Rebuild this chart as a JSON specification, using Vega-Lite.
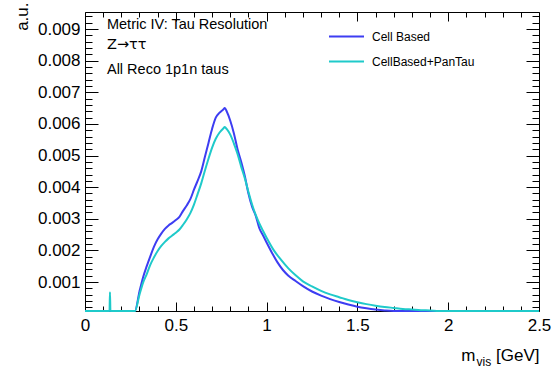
{
  "$schema": "https://vega.github.io/schema/vega-lite/v6.json",
  "width": 454,
  "height": 299,
  "autosize": {"type": "none"},
  "padding": {"left": 85, "top": 12, "right": 20, "bottom": 60},
  "background": "white",
  "config": {
    "view": {"stroke": "black", "strokeWidth": 1},
    "font": "Liberation Sans",
    "axis": {"domain": false, "grid": false, "tickColor": "black", "tickWidth": 1, "labelColor": "black", "titleColor": "black", "labelFont": "Liberation Sans", "titleFont": "Liberation Sans", "titleFontWeight": "normal"}
  },
  "data": {"values": [
    {"s": "Cell Based", "x": 0, "v": 0},
    {"s": "Cell Based", "x": 0.27, "v": 0},
    {"s": "Cell Based", "x": 0.275, "v": 0.00008},
    {"s": "Cell Based", "x": 0.3, "v": 0.0007},
    {"s": "Cell Based", "x": 0.32, "v": 0.00115},
    {"s": "Cell Based", "x": 0.34, "v": 0.0015},
    {"s": "Cell Based", "x": 0.36, "v": 0.00182},
    {"s": "Cell Based", "x": 0.38, "v": 0.00212},
    {"s": "Cell Based", "x": 0.4, "v": 0.00235},
    {"s": "Cell Based", "x": 0.42, "v": 0.00253},
    {"s": "Cell Based", "x": 0.44, "v": 0.00268},
    {"s": "Cell Based", "x": 0.46, "v": 0.00279},
    {"s": "Cell Based", "x": 0.48, "v": 0.00287},
    {"s": "Cell Based", "x": 0.5, "v": 0.00296},
    {"s": "Cell Based", "x": 0.52, "v": 0.00306},
    {"s": "Cell Based", "x": 0.54, "v": 0.00325},
    {"s": "Cell Based", "x": 0.56, "v": 0.00342},
    {"s": "Cell Based", "x": 0.58, "v": 0.00362},
    {"s": "Cell Based", "x": 0.6, "v": 0.00392},
    {"s": "Cell Based", "x": 0.62, "v": 0.0042},
    {"s": "Cell Based", "x": 0.64, "v": 0.0045},
    {"s": "Cell Based", "x": 0.66, "v": 0.00495},
    {"s": "Cell Based", "x": 0.68, "v": 0.0054},
    {"s": "Cell Based", "x": 0.7, "v": 0.00585},
    {"s": "Cell Based", "x": 0.72, "v": 0.0062},
    {"s": "Cell Based", "x": 0.74, "v": 0.00635},
    {"s": "Cell Based", "x": 0.76, "v": 0.00645},
    {"s": "Cell Based", "x": 0.77, "v": 0.0065},
    {"s": "Cell Based", "x": 0.78, "v": 0.0064},
    {"s": "Cell Based", "x": 0.8, "v": 0.0061},
    {"s": "Cell Based", "x": 0.82, "v": 0.0057},
    {"s": "Cell Based", "x": 0.84, "v": 0.0052},
    {"s": "Cell Based", "x": 0.86, "v": 0.0048},
    {"s": "Cell Based", "x": 0.88, "v": 0.00435},
    {"s": "Cell Based", "x": 0.9, "v": 0.0038},
    {"s": "Cell Based", "x": 0.92, "v": 0.00338},
    {"s": "Cell Based", "x": 0.94, "v": 0.0031},
    {"s": "Cell Based", "x": 0.96, "v": 0.0027},
    {"s": "Cell Based", "x": 0.98, "v": 0.00248},
    {"s": "Cell Based", "x": 1.0, "v": 0.00225},
    {"s": "Cell Based", "x": 1.03, "v": 0.00192},
    {"s": "Cell Based", "x": 1.06, "v": 0.00162},
    {"s": "Cell Based", "x": 1.09, "v": 0.00138},
    {"s": "Cell Based", "x": 1.12, "v": 0.0012},
    {"s": "Cell Based", "x": 1.16, "v": 0.00103},
    {"s": "Cell Based", "x": 1.2, "v": 0.00087},
    {"s": "Cell Based", "x": 1.25, "v": 0.0007},
    {"s": "Cell Based", "x": 1.3, "v": 0.00057},
    {"s": "Cell Based", "x": 1.35, "v": 0.00046},
    {"s": "Cell Based", "x": 1.4, "v": 0.00037},
    {"s": "Cell Based", "x": 1.45, "v": 0.00029},
    {"s": "Cell Based", "x": 1.5, "v": 0.00022},
    {"s": "Cell Based", "x": 1.55, "v": 0.00017},
    {"s": "Cell Based", "x": 1.6, "v": 0.00013},
    {"s": "Cell Based", "x": 1.65, "v": 0.0001},
    {"s": "Cell Based", "x": 1.7, "v": 0.00008},
    {"s": "Cell Based", "x": 1.75, "v": 0.00006},
    {"s": "Cell Based", "x": 1.8, "v": 0},
    {"s": "Cell Based", "x": 2.5, "v": 0},
    {"s": "CellBased+PanTau", "x": 0, "v": 0},
    {"s": "CellBased+PanTau", "x": 0.135, "v": 0},
    {"s": "CellBased+PanTau", "x": 0.1375, "v": 0.00068},
    {"s": "CellBased+PanTau", "x": 0.14, "v": 0},
    {"s": "CellBased+PanTau", "x": 0.27, "v": 0},
    {"s": "CellBased+PanTau", "x": 0.275, "v": 0.00008},
    {"s": "CellBased+PanTau", "x": 0.3, "v": 0.0006},
    {"s": "CellBased+PanTau", "x": 0.32, "v": 0.00098},
    {"s": "CellBased+PanTau", "x": 0.34, "v": 0.00125},
    {"s": "CellBased+PanTau", "x": 0.36, "v": 0.00155},
    {"s": "CellBased+PanTau", "x": 0.38, "v": 0.00178},
    {"s": "CellBased+PanTau", "x": 0.4, "v": 0.00198},
    {"s": "CellBased+PanTau", "x": 0.42, "v": 0.00214},
    {"s": "CellBased+PanTau", "x": 0.44, "v": 0.00227},
    {"s": "CellBased+PanTau", "x": 0.46, "v": 0.00238},
    {"s": "CellBased+PanTau", "x": 0.48, "v": 0.00247},
    {"s": "CellBased+PanTau", "x": 0.5, "v": 0.00256},
    {"s": "CellBased+PanTau", "x": 0.52, "v": 0.00266},
    {"s": "CellBased+PanTau", "x": 0.54, "v": 0.00281},
    {"s": "CellBased+PanTau", "x": 0.56, "v": 0.00298},
    {"s": "CellBased+PanTau", "x": 0.58, "v": 0.00318},
    {"s": "CellBased+PanTau", "x": 0.6, "v": 0.00345},
    {"s": "CellBased+PanTau", "x": 0.62, "v": 0.00378},
    {"s": "CellBased+PanTau", "x": 0.64, "v": 0.00412},
    {"s": "CellBased+PanTau", "x": 0.66, "v": 0.00452},
    {"s": "CellBased+PanTau", "x": 0.68, "v": 0.0049},
    {"s": "CellBased+PanTau", "x": 0.7, "v": 0.00525},
    {"s": "CellBased+PanTau", "x": 0.72, "v": 0.00553},
    {"s": "CellBased+PanTau", "x": 0.74, "v": 0.00572},
    {"s": "CellBased+PanTau", "x": 0.76, "v": 0.00585},
    {"s": "CellBased+PanTau", "x": 0.77, "v": 0.0059},
    {"s": "CellBased+PanTau", "x": 0.78, "v": 0.00584},
    {"s": "CellBased+PanTau", "x": 0.8, "v": 0.00566},
    {"s": "CellBased+PanTau", "x": 0.82, "v": 0.00538},
    {"s": "CellBased+PanTau", "x": 0.84, "v": 0.00505},
    {"s": "CellBased+PanTau", "x": 0.86, "v": 0.00465},
    {"s": "CellBased+PanTau", "x": 0.88, "v": 0.00428},
    {"s": "CellBased+PanTau", "x": 0.9, "v": 0.00385},
    {"s": "CellBased+PanTau", "x": 0.92, "v": 0.00345},
    {"s": "CellBased+PanTau", "x": 0.94, "v": 0.00312},
    {"s": "CellBased+PanTau", "x": 0.96, "v": 0.00285},
    {"s": "CellBased+PanTau", "x": 0.98, "v": 0.00262},
    {"s": "CellBased+PanTau", "x": 1.0, "v": 0.0024},
    {"s": "CellBased+PanTau", "x": 1.04, "v": 0.002},
    {"s": "CellBased+PanTau", "x": 1.08, "v": 0.0017},
    {"s": "CellBased+PanTau", "x": 1.12, "v": 0.00143},
    {"s": "CellBased+PanTau", "x": 1.16, "v": 0.00121},
    {"s": "CellBased+PanTau", "x": 1.2, "v": 0.00102},
    {"s": "CellBased+PanTau", "x": 1.25, "v": 0.00086},
    {"s": "CellBased+PanTau", "x": 1.3, "v": 0.00072},
    {"s": "CellBased+PanTau", "x": 1.35, "v": 0.00061},
    {"s": "CellBased+PanTau", "x": 1.4, "v": 0.00052},
    {"s": "CellBased+PanTau", "x": 1.45, "v": 0.00043},
    {"s": "CellBased+PanTau", "x": 1.5, "v": 0.00036},
    {"s": "CellBased+PanTau", "x": 1.55, "v": 0.0003},
    {"s": "CellBased+PanTau", "x": 1.6, "v": 0.00025},
    {"s": "CellBased+PanTau", "x": 1.65, "v": 0.00021},
    {"s": "CellBased+PanTau", "x": 1.7, "v": 0.00018},
    {"s": "CellBased+PanTau", "x": 1.75, "v": 0.00015},
    {"s": "CellBased+PanTau", "x": 1.8, "v": 0.00013},
    {"s": "CellBased+PanTau", "x": 1.85, "v": 0.00011},
    {"s": "CellBased+PanTau", "x": 1.9, "v": 0.0001},
    {"s": "CellBased+PanTau", "x": 1.95, "v": 0.00008},
    {"s": "CellBased+PanTau", "x": 2.0, "v": 0.00005},
    {"s": "CellBased+PanTau", "x": 2.05, "v": 0},
    {"s": "CellBased+PanTau", "x": 2.5, "v": 0}
  ]},
  "layer": [
    {
      "mark": {"type": "line", "strokeWidth": 2, "interpolate": "monotone"},
      "encoding": {
        "x": {"field": "x", "type": "quantitative",
          "scale": {"domain": [0, 2.5], "nice": false, "zero": false},
          "axis": {"orient": "bottom", "values": [0, 0.5, 1, 1.5, 2, 2.5], "format": "~g", "tickSize": -9, "labelFontSize": 17, "labelPadding": 15, "labelFlush": false,
            "title": "[GeV]", "titleFontSize": 17, "titleAngle": 0, "titleAlign": "right", "titleBaseline": "alphabetic", "titleX": 454, "titleY": 49}},
        "y": {"field": "v", "type": "quantitative",
          "scale": {"domain": [0.000083, 0.00954], "nice": false, "zero": false, "clamp": true},
          "axis": {"orient": "left", "values": [0.001, 0.002, 0.003, 0.004, 0.005, 0.006, 0.007, 0.008, 0.009], "format": ".3f", "tickSize": -13, "labelFontSize": 17, "labelPadding": 18, "labelFlush": false,
            "title": "a.u.", "titleFontSize": 17, "titleAngle": -90, "titleAlign": "right", "titleBaseline": "alphabetic", "titleX": -58, "titleY": -10}},
        "color": {"field": "s", "type": "nominal",
          "scale": {"domain": ["Cell Based", "CellBased+PanTau"], "range": ["#3d3df2", "#1fcaca"]},
          "legend": {"orient": "none", "legendX": 243, "legendY": 6, "title": null, "symbolType": "stroke", "symbolSize": 1225, "symbolStrokeWidth": 2, "labelFontSize": 12, "labelFont": "Liberation Sans", "labelColor": "black", "labelOffset": 7, "rowPadding": -1, "padding": 0, "direction": "vertical"}}
      }
    },
    {
      "mark": {"type": "point", "opacity": 0, "size": 0},
      "encoding": {
        "x": {"field": "x", "type": "quantitative",
          "axis": {"orient": "bottom", "values": [0.1, 0.2, 0.3, 0.4, 0.6, 0.7, 0.8, 0.9, 1.1, 1.2, 1.3, 1.4, 1.6, 1.7, 1.8, 1.9, 2.1, 2.2, 2.3, 2.4], "tickSize": -5, "labels": false,
            "title": "vis", "titleFontSize": 12, "titleAngle": 0, "titleAlign": "left", "titleBaseline": "alphabetic", "titleX": 391, "titleY": 54}},
        "y": {"field": "v", "type": "quantitative",
          "axis": {"orient": "left", "values": [0.0002, 0.0004, 0.0006, 0.0008, 0.0012, 0.0014, 0.0016, 0.0018, 0.0022, 0.0024, 0.0026, 0.0028, 0.0032, 0.0034, 0.0036, 0.0038, 0.0042, 0.0044, 0.0046, 0.0048, 0.0052, 0.0054, 0.0056, 0.0058, 0.0062, 0.0064, 0.0066, 0.0068, 0.0072, 0.0074, 0.0076, 0.0078, 0.0082, 0.0084, 0.0086, 0.0088, 0.0092, 0.0094], "tickSize": -7, "labels": false, "title": null}}
      }
    },
    {
      "mark": {"type": "point", "opacity": 0, "size": 0},
      "encoding": {
        "x": {"field": "x", "type": "quantitative",
          "axis": {"orient": "top", "values": [0, 0.5, 1, 1.5, 2, 2.5], "tickSize": -9, "labels": false,
            "title": "m", "titleFontSize": 17, "titleAngle": 0, "titleAlign": "right", "titleBaseline": "alphabetic", "titleX": 390, "titleY": 348}},
        "y": {"field": "v", "type": "quantitative",
          "axis": {"orient": "right", "values": [0.001, 0.002, 0.003, 0.004, 0.005, 0.006, 0.007, 0.008, 0.009], "tickSize": -13, "labels": false, "title": null}}
      }
    },
    {
      "mark": {"type": "point", "opacity": 0, "size": 0},
      "encoding": {
        "x": {"field": "x", "type": "quantitative",
          "axis": {"orient": "top", "values": [0.1, 0.2, 0.3, 0.4, 0.6, 0.7, 0.8, 0.9, 1.1, 1.2, 1.3, 1.4, 1.6, 1.7, 1.8, 1.9, 2.1, 2.2, 2.3, 2.4], "tickSize": -5, "labels": false, "title": null}},
        "y": {"field": "v", "type": "quantitative",
          "axis": {"orient": "right", "values": [0.0002, 0.0004, 0.0006, 0.0008, 0.0012, 0.0014, 0.0016, 0.0018, 0.0022, 0.0024, 0.0026, 0.0028, 0.0032, 0.0034, 0.0036, 0.0038, 0.0042, 0.0044, 0.0046, 0.0048, 0.0052, 0.0054, 0.0056, 0.0058, 0.0062, 0.0064, 0.0066, 0.0068, 0.0072, 0.0074, 0.0076, 0.0078, 0.0082, 0.0084, 0.0086, 0.0088, 0.0092, 0.0094], "tickSize": -7, "labels": false, "title": null}}
      }
    },
    {
      "data": {"values": [{"label": "Metric IV: Tau Resolution"}]},
      "mark": {"type": "text", "align": "left", "baseline": "alphabetic", "fontSize": 14.5, "font": "Liberation Sans", "color": "black"},
      "encoding": {
        "x": {"datum": 0.121, "type": "quantitative", "axis": null},
        "y": {"datum": 0.009, "type": "quantitative", "axis": null},
        "text": {"field": "label"}
      }
    },
    {
      "data": {"values": [{"label": "Z→ττ"}]},
      "mark": {"type": "text", "align": "left", "baseline": "alphabetic", "fontSize": 14.5, "font": "DejaVu Sans", "color": "black"},
      "encoding": {
        "x": {"datum": 0.121, "type": "quantitative", "axis": null},
        "y": {"datum": 0.00837, "type": "quantitative", "axis": null},
        "text": {"field": "label"}
      }
    },
    {
      "data": {"values": [{"label": "All Reco 1p1n taus"}]},
      "mark": {"type": "text", "align": "left", "baseline": "alphabetic", "fontSize": 14.5, "font": "Liberation Sans", "color": "black"},
      "encoding": {
        "x": {"datum": 0.121, "type": "quantitative", "axis": null},
        "y": {"datum": 0.00758, "type": "quantitative", "axis": null},
        "text": {"field": "label"}
      }
    }
  ],
  "resolve": {"axis": {"x": "independent", "y": "independent"}}
}
